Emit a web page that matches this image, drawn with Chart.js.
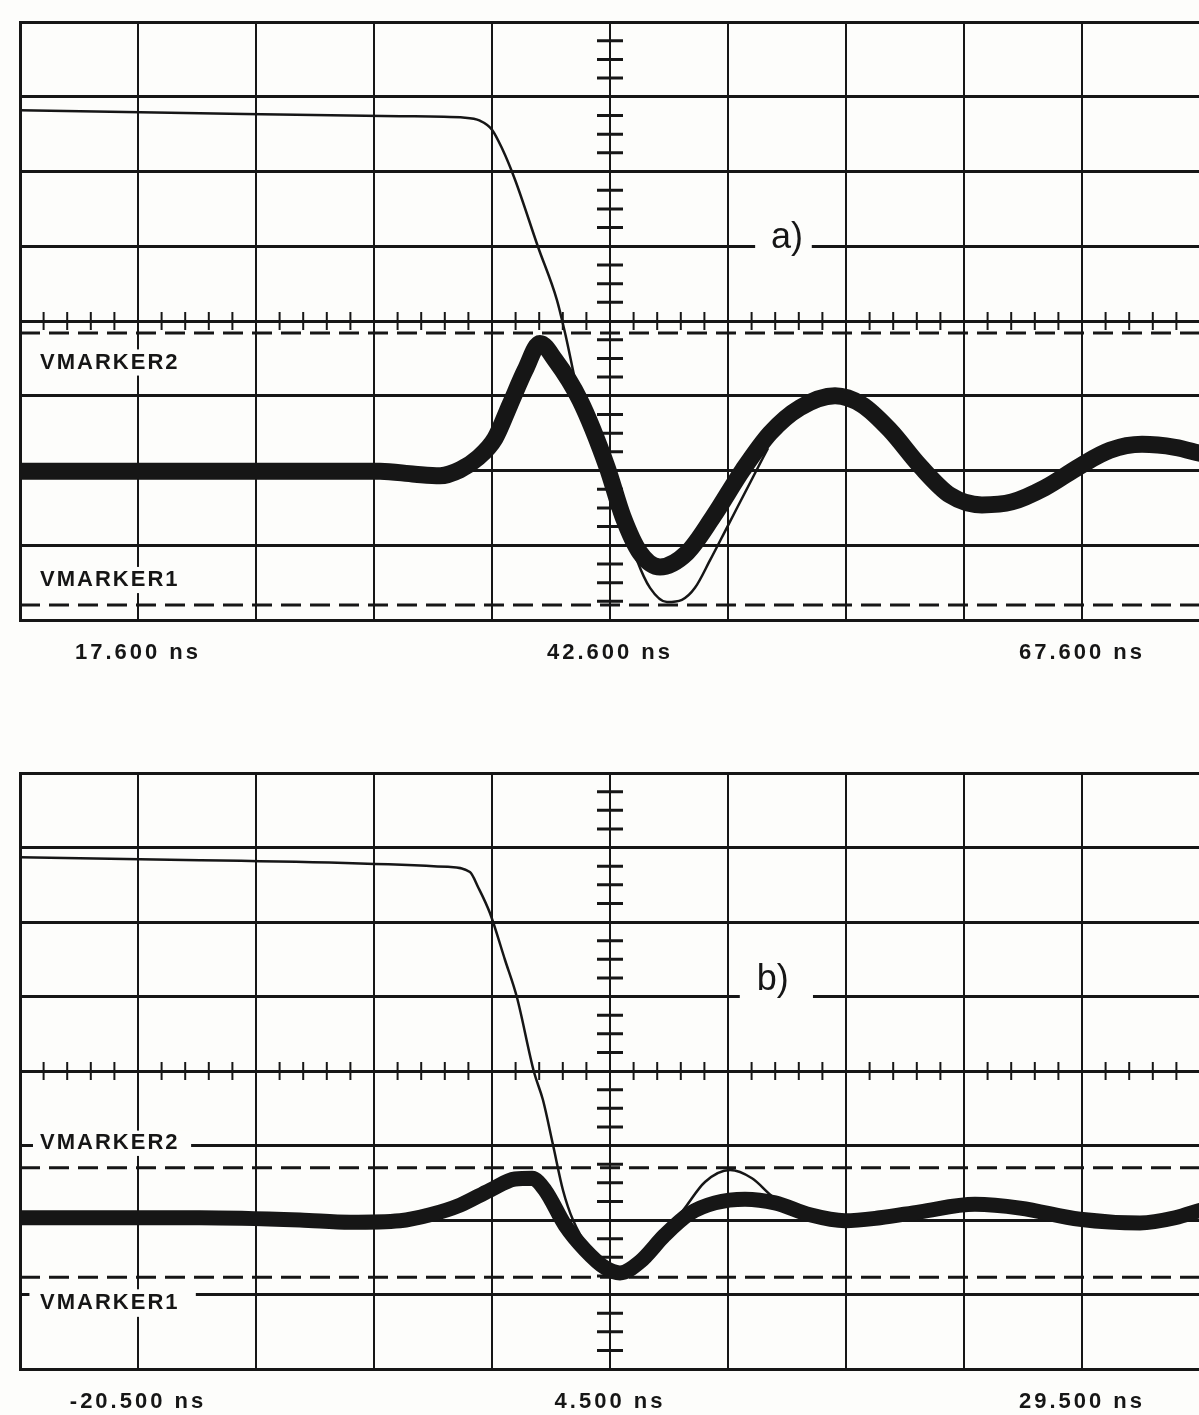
<!DOCTYPE html>
<html>
<head>
<meta charset="utf-8">
<script src="https://cdn.jsdelivr.net/npm/chart.js@4.4.1/dist/chart.umd.min.js"></script>
<style>
  html, body { margin: 0; padding: 0; background: #fdfdfb; width: 1199px; height: 1415px; overflow: hidden; }
  canvas { display: block; }
</style>
</head>
<body>
<canvas id="panelA" width="1220" height="700"></canvas>
<canvas id="panelB" width="1220" height="715"></canvas>
<script>
// ====== данные: 10 делений по X, 8 делений по Y ======
// панель a) — 6.25 ns/дел
const A_X_MIN = 11.35, A_X_MAX = 73.85;
const aTickVals   = [17.6, 42.6, 67.6];
const aTickLabels = ['17.600 ns', '42.600 ns', '67.600 ns'];
// толстая (выход, много наложений)
const aThickX = [11.35, 20.88, 30.42, 32.27, 33.60, 34.66, 35.61, 36.51, 37.30, 38.10, 38.89, 39.69, 41.01, 42.44, 43.29, 44.19, 45.25, 46.68, 48.06, 49.64, 51.08, 52.66, 54.52, 55.95, 57.43, 59.02, 60.61, 62.30, 63.89, 65.64, 67.50, 69.08, 70.78, 72.53, 73.85];
const aThickY = [1.99, 1.99, 1.99, 1.95, 1.93, 2.01, 2.17, 2.43, 2.88, 3.34, 3.70, 3.48, 2.94, 2.05, 1.38, 0.90, 0.71, 0.90, 1.38, 2.01, 2.50, 2.84, 3.00, 2.88, 2.54, 2.06, 1.67, 1.54, 1.58, 1.77, 2.06, 2.27, 2.35, 2.31, 2.23];
// тонкая (ступенька + расчёт)
const aThinX = [11.35, 20.88, 31.48, 34.92, 35.71, 36.35, 36.88, 37.57, 38.79, 39.79, 40.22, 41.01, 42.44, 43.29, 44.03, 44.72, 45.62, 46.41, 47.10, 47.90, 48.80, 50.17, 50.97];
const aThinY = [6.82, 6.78, 6.74, 6.72, 6.68, 6.56, 6.31, 5.89, 4.99, 4.28, 3.84, 2.94, 2.05, 1.38, 0.80, 0.43, 0.24, 0.27, 0.43, 0.80, 1.24, 1.91, 2.30];
const aMarkers = [3.84, 0.20]; // VMARKER2, VMARKER1

// панель b)
const B_X_MIN = -26.75, B_X_MAX = 35.75;
const bTickVals   = [-20.5, 4.5, 29.5];
const bTickLabels = ['-20.500 ns', '4.500 ns', '29.500 ns'];
const bThickX = [-26.75, -17.22, -11.92, -9.27, -6.62, -5.03, -3.44, -1.86, -0.53, 0.37, 1.06, 2.12, 3.18, 4.24, 5.03, 6.09, 7.41, 8.74, 10.06, 11.65, 13.24, 15.09, 16.95, 18.80, 20.92, 23.83, 26.22, 29.39, 32.57, 34.43, 35.75];
const bThickY = [2.03, 2.03, 2.00, 1.97, 1.99, 2.07, 2.20, 2.40, 2.55, 2.56, 2.40, 1.93, 1.60, 1.36, 1.29, 1.44, 1.80, 2.09, 2.23, 2.28, 2.23, 2.07, 1.99, 2.03, 2.11, 2.21, 2.16, 2.01, 1.96, 2.03, 2.13];
const bThinX = [-26.75, -17.22, -4.08, -2.92, -2.49, -1.86, -1.06, -0.43, 0.47, 0.95, 1.48, 2.01, 2.54, 3.44, 4.76, 6.09, 7.41, 8.37, 9.53, 10.86, 12.02, 13.13, 14.30];
const bThinY = [6.87, 6.83, 6.74, 6.67, 6.47, 6.12, 5.49, 4.99, 3.99, 3.61, 3.01, 2.40, 2.00, 1.60, 1.30, 1.44, 1.84, 2.13, 2.51, 2.67, 2.56, 2.31, 2.13];
const bMarkers = [2.70, 1.23];

const BG = '#fdfdfb';
const INK = '#161616';
const FONT = "'Liberation Sans', Arial, sans-serif";

function zip(xs, ys) { return xs.map((x, i) => ({ x, y: ys[i] })); }

// сетка осциллографа: засечки на центральных осях, подписи VMARKER и a)/b)
function graticule(cfg) {
  return {
    id: 'graticule',
    beforeDraw(chart) { chart.ctx.letterSpacing = '3px'; },
    beforeDatasetsDraw(chart) {
      const { ctx, chartArea: a } = chart;
      const dx = a.width / 10, dy = a.height / 8;
      const px = d => a.left + d * dx;
      const py = d => a.bottom - d * dy;
      const cx = px(5), cy = py(4);
      ctx.save();
      ctx.strokeStyle = INK;
      ctx.lineWidth = 3;
      ctx.beginPath();
      for (let k = 1; k < 32; k++) {
        if (k % 4 === 0) continue;
        const y = a.top + k * dy / 4;
        ctx.moveTo(cx - 13, y); ctx.lineTo(cx + 13, y);
      }
      ctx.stroke();
      ctx.lineWidth = 2;
      ctx.beginPath();
      for (let k = 1; k < 50; k++) {
        if (k % 5 === 0) continue;
        const x = a.left + k * dx / 5;
        ctx.moveTo(x, cy - 9); ctx.lineTo(x, cy + 9);
      }
      ctx.stroke();

      cfg.texts.forEach(t => {
        const [x0, x1, y0, y1] = t.box;
        ctx.fillStyle = BG;
        ctx.fillRect(px(x0), py(y1), px(x1) - px(x0), py(y0) - py(y1));
        ctx.fillStyle = INK;
        ctx.font = t.font;
        ctx.letterSpacing = t.spacing;
        ctx.textAlign = t.align;
        ctx.textBaseline = 'middle';
        ctx.fillText(t.text, px(t.x), py(t.y));
      });
      ctx.restore();
    }
  };
}

function panel(id, cfg) {
  const divW = (cfg.xMax - cfg.xMin) / 10;
  const thin = { borderColor: INK, borderWidth: 2.5, cubicInterpolationMode: 'monotone', pointRadius: 0, fill: false };
  return new Chart(document.getElementById(id), {
    type: 'line',
    data: {
      datasets: [
        { data: zip(cfg.thickX, cfg.thickY), borderColor: INK, borderWidth: cfg.thickW,
          cubicInterpolationMode: 'monotone', borderJoinStyle: 'round', borderCapStyle: 'round', pointRadius: 0, fill: false },
        { ...thin, data: zip(cfg.thinX, cfg.thinY) },
        ...cfg.markers.map(v => ({
          data: [{ x: cfg.xMin, y: v }, { x: cfg.xMax, y: v }],
          borderColor: INK, borderWidth: 3, borderDash: [20, 9], pointRadius: 0, fill: false
        }))
      ]
    },
    options: {
      responsive: false,
      animation: false,
      events: [],
      layout: { padding: { top: cfg.padTop, left: 0, right: 0, bottom: 0 } },
      plugins: { legend: { display: false }, tooltip: { enabled: false } },
      scales: {
        x: {
          type: 'linear', min: cfg.xMin, max: cfg.xMax,
          afterBuildTicks: s => { s.ticks = Array.from({ length: 11 }, (_, i) => ({ value: cfg.xMin + i * divW })); },
          afterFit: s => { s.height = cfg.xAxisH; },
          grid: { color: INK, lineWidth: 2, drawTicks: false },
          border: { color: INK, width: 3 },
          ticks: {
            autoSkip: false, maxRotation: 0, padding: 20, color: INK,
            font: { family: FONT, size: 22, weight: 'bold' },
            callback: v => {
              const i = cfg.tickVals.findIndex(t => Math.abs(t - v) < 1e-6);
              return i < 0 ? '' : cfg.tickLabels[i];
            }
          }
        },
        y: {
          type: 'linear', min: 0, max: 8,
          afterBuildTicks: s => { s.ticks = Array.from({ length: 9 }, (_, i) => ({ value: i })); },
          afterFit: s => { s.width = 20; },
          grid: { color: INK, lineWidth: 3, drawTicks: false },
          border: { color: INK, width: 3 },
          ticks: { display: false }
        }
      }
    },
    plugins: [graticule(cfg)]
  });
}

const markFont = `bold 22px ${FONT}`;
const tagFont = `36px ${FONT}`;

panel('panelA', {
  xMin: A_X_MIN, xMax: A_X_MAX, tickVals: aTickVals, tickLabels: aTickLabels,
  thickX: aThickX, thickY: aThickY, thinX: aThinX, thinY: aThinY, markers: aMarkers,
  thickW: 17, padTop: 22, xAxisH: 80,
  texts: [
    { text: 'a)', x: 6.5, y: 5.11, box: [6.23, 6.71, 4.92, 5.4], font: tagFont, spacing: '0px', align: 'center' },
    { text: 'VMARKER2', x: 0.17, y: 3.44, box: [0.13, 1.42, 3.27, 3.62], font: markFont, spacing: '2px', align: 'left' },
    { text: 'VMARKER1', x: 0.17, y: 0.535, box: [0.13, 1.42, 0.36, 0.71], font: markFont, spacing: '2px', align: 'left' }
  ]
});

panel('panelB', {
  xMin: B_X_MIN, xMax: B_X_MAX, tickVals: bTickVals, tickLabels: bTickLabels,
  thickX: bThickX, thickY: bThickY, thinX: bThinX, thinY: bThinY, markers: bMarkers,
  thickW: 15, padTop: 73, xAxisH: 46,
  texts: [
    { text: 'b)', x: 6.38, y: 5.22, box: [6.10, 6.72, 4.92, 5.5], font: tagFont, spacing: '0px', align: 'center' },
    { text: 'VMARKER2', x: 0.17, y: 3.03, box: [0.11, 1.45, 2.86, 3.2], font: markFont, spacing: '2px', align: 'left' },
    { text: 'VMARKER1', x: 0.17, y: 0.886, box: [0.08, 1.49, 0.7, 1.07], font: markFont, spacing: '2px', align: 'left' }
  ]
});
</script>
</body>
</html>
